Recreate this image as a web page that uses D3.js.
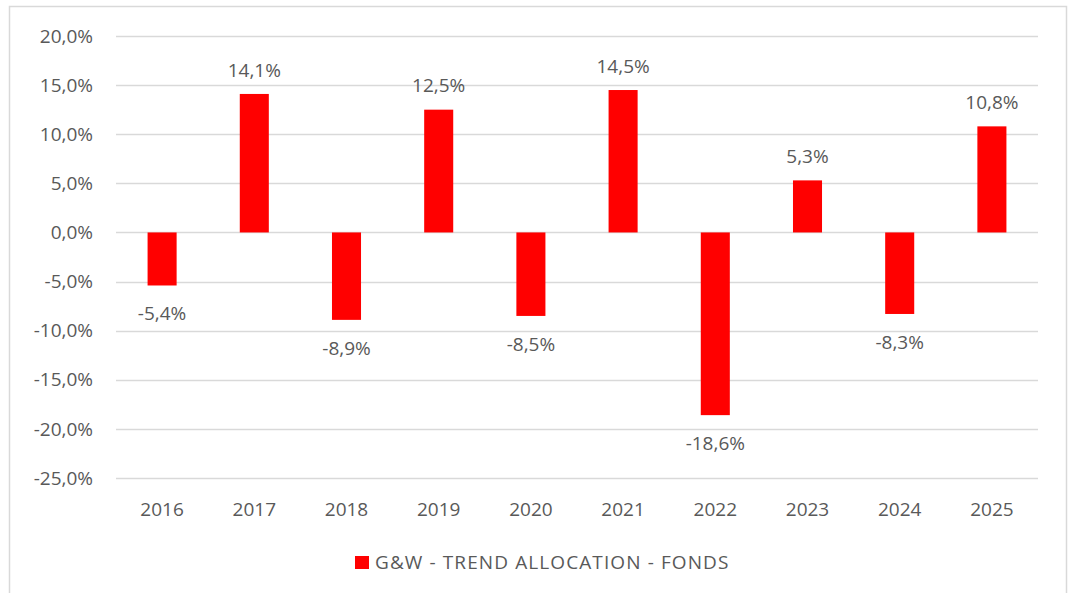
<!DOCTYPE html>
<html>
<head>
<meta charset="utf-8">
<script src="https://cdn.jsdelivr.net/npm/d3@7"></script>
<style>
  body { margin: 0; background: #fff; }
  svg text { font-family: "Open Sans", "Noto Sans", sans-serif; fill: #595959; }
</style>
</head>
<body>
<div id="chart"></div>
<script>
// categories and values
const years = ["2016", "2017", "2018", "2019", "2020", "2021", "2022", "2023", "2024", "2025"];
const returns = [-5.4, 14.1, -8.9, 12.5, -8.5, 14.5, -18.6, 5.3, -8.3, 10.8];
const yTicks = [20, 15, 10, 5, 0, -5, -10, -15, -20, -25];
const seriesName = "G&W - TREND ALLOCATION - FONDS";

const W = 1073, H = 593;
const plot = {left: 116, right: 1038, top: 36, bottom: 478};

const svg = d3.select("#chart").append("svg")
  .attr("width", W).attr("height", H);

// outer frame
svg.append("rect")
  .attr("x", 9.5).attr("y", 6.5)
  .attr("width", 1057).attr("height", 600)
  .attr("fill", "none").attr("stroke", "#d9d9d9").attr("stroke-width", 1.5);

const x = d3.scaleBand().domain(years).range([plot.left, plot.right]).paddingInner(0.685).paddingOuter(0.3425);
const y = d3.scaleLinear().domain([-25, 20]).range([plot.bottom, plot.top]);

const fmt = v => d3.format(".1f")(v).replace(".", ",").replace("−", "-") + "%";

// gridlines
svg.append("g").selectAll("line").data(yTicks).join("line")
  .attr("x1", plot.left).attr("x2", plot.right)
  .attr("y1", d => Math.round(y(d)) + 0.5).attr("y2", d => Math.round(y(d)) + 0.5)
  .attr("stroke", "#d9d9d9").attr("stroke-width", 1.5);

// y labels
svg.append("g").selectAll("text").data(yTicks).join("text")
  .attr("x", 93).attr("y", d => y(d))
  .attr("dy", "0.35em").attr("text-anchor", "end")
  .style("font-size", "19px")
  .text(d => fmt(d));

// x labels
svg.append("g").selectAll("text").data(years).join("text")
  .attr("x", d => x(d) + x.bandwidth() / 2).attr("y", 509)
  .attr("dy", "0.35em").attr("text-anchor", "middle")
  .style("font-size", "19px")
  .text(d => d);

// bars
svg.append("g").selectAll("rect").data(returns).join("rect")
  .attr("x", (d, i) => x(years[i]))
  .attr("width", x.bandwidth())
  .attr("y", d => y(Math.max(0, d)))
  .attr("height", d => Math.abs(y(d) - y(0)))
  .attr("fill", "#ff0000");

// value labels
svg.append("g").selectAll("text").data(returns).join("text")
  .attr("x", (d, i) => x(years[i]) + x.bandwidth() / 2)
  .attr("y", d => d >= 0 ? y(d) - 24 : y(d) + 28)
  .attr("dy", "0.35em").attr("text-anchor", "middle")
  .style("font-size", "19px")
  .text(d => fmt(d));

// legend
const lg = svg.append("g");
lg.append("rect").attr("x", 355).attr("y", 556).attr("width", 14).attr("height", 13).attr("fill", "#ff0000");
lg.append("text").attr("x", 375).attr("y", 562.5).attr("dy", "0.35em")
  .style("font-size", "19px").style("letter-spacing", "1.1px").text(seriesName);
</script>
</body>
</html>
